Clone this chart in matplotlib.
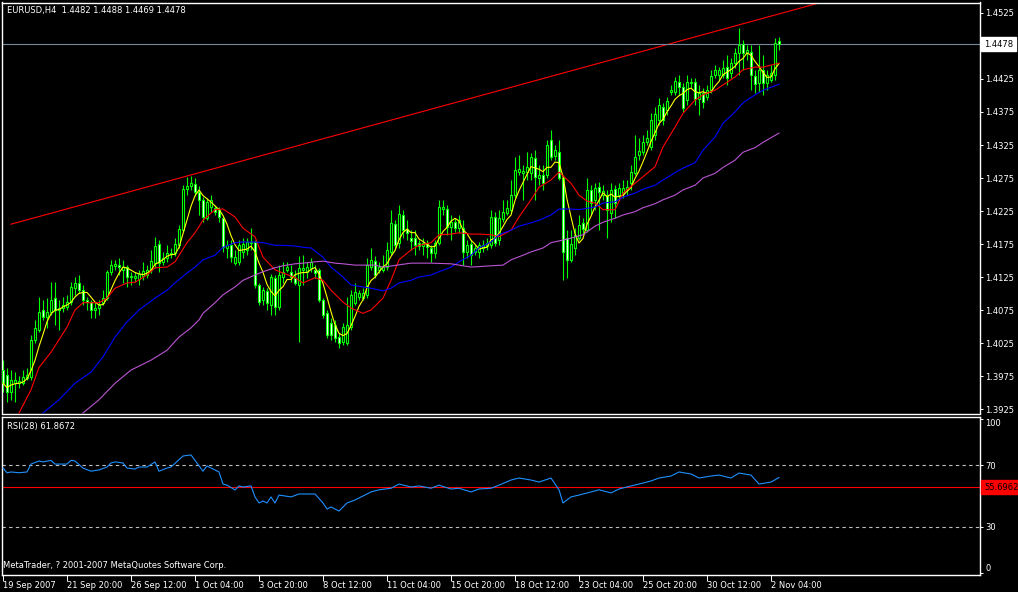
import numpy as np
import pandas as pd
import matplotlib
matplotlib.use("Agg")
import matplotlib.pyplot as plt
from matplotlib.transforms import blended_transform_factory

# EURUSD H4 candles (bar 0 = 19 Sep 2007)
opens = [
    1.3984, 1.3976, 1.3951, 1.3964, 1.3964, 1.3964, 1.3972, 1.3973, 1.4030, 1.4045,
    1.4075, 1.4064, 1.4072, 1.4093, 1.4075, 1.4078, 1.4080, 1.4087, 1.4108, 1.4116,
    1.4105, 1.4090, 1.4087, 1.4075, 1.4078, 1.4086, 1.4093, 1.4133, 1.4142, 1.4143,
    1.4136, 1.4140, 1.4125, 1.4124, 1.4122, 1.4127, 1.4128, 1.4136, 1.4146, 1.4175,
    1.4148, 1.4154, 1.4160, 1.4161, 1.4173, 1.4196, 1.4258, 1.4263, 1.4266, 1.4254,
    1.4242, 1.4214, 1.4231, 1.4230, 1.4227, 1.4214, 1.4169, 1.4173, 1.4146, 1.4148,
    1.4163, 1.4166, 1.4177, 1.4178, 1.4113, 1.4090, 1.4104, 1.4083, 1.4124, 1.4080,
    1.4125, 1.4136, 1.4133, 1.4124, 1.4113, 1.4136, 1.4133, 1.4139, 1.4136, 1.4136,
    1.4090, 1.4070, 1.4055, 1.4052, 1.4034, 1.4027, 1.4025, 1.4049, 1.4086, 1.4095,
    1.4093, 1.4098, 1.4140, 1.4149, 1.4136, 1.4136, 1.4140, 1.4163, 1.4205, 1.4177,
    1.4219, 1.4198, 1.4184, 1.4184, 1.4177, 1.4172, 1.4177, 1.4169, 1.4161, 1.4177,
    1.4228, 1.4228, 1.4201, 1.4208, 1.4199, 1.4199, 1.4163, 1.4175, 1.4163, 1.4163,
    1.4169, 1.4172, 1.4173, 1.4216, 1.4181, 1.4213, 1.4222, 1.4227, 1.4249, 1.4284,
    1.4283, 1.4284, 1.4283, 1.4305, 1.4275, 1.4280, 1.4280, 1.4333, 1.4308, 1.4314,
    1.4275, 1.4184, 1.4151, 1.4169, 1.4184, 1.4207, 1.4196, 1.4257, 1.4242, 1.4261,
    1.4249, 1.4249, 1.4222, 1.4258, 1.4249, 1.4252, 1.4257, 1.4267, 1.4283, 1.4310,
    1.4314, 1.4330, 1.4322, 1.4340, 1.4363, 1.4383, 1.4378, 1.4405, 1.4405, 1.4420,
    1.4413, 1.4393, 1.4419, 1.4420, 1.4395, 1.4404, 1.4398, 1.4408, 1.4431, 1.4431,
    1.4431, 1.4443, 1.4434, 1.4449, 1.4464, 1.4478, 1.4464, 1.4466, 1.4430, 1.4419,
    1.4439, 1.4419, 1.4423, 1.4431, 1.4482]
highs = [
    1.3999, 1.3987, 1.3984, 1.3981, 1.3975, 1.3984, 1.3987, 1.4037, 1.4060, 1.4095,
    1.4090, 1.4093, 1.4117, 1.4117, 1.4090, 1.4095, 1.4098, 1.4117, 1.4125, 1.4128,
    1.4113, 1.4095, 1.4090, 1.4087, 1.4090, 1.4105, 1.4136, 1.4151, 1.4151, 1.4154,
    1.4151, 1.4143, 1.4133, 1.4133, 1.4136, 1.4148, 1.4143, 1.4166, 1.4186, 1.4181,
    1.4163, 1.4173, 1.4169, 1.4184, 1.4204, 1.4264, 1.4277, 1.4278, 1.4275, 1.4263,
    1.4246, 1.4245, 1.4249, 1.4234, 1.4231, 1.4217, 1.4181, 1.4181, 1.4166, 1.4181,
    1.4184, 1.4184, 1.4199, 1.4181, 1.4116, 1.4110, 1.4108, 1.4130, 1.4128, 1.4143,
    1.4148, 1.4148, 1.4143, 1.4136, 1.4157, 1.4158, 1.4148, 1.4154, 1.4143, 1.4139,
    1.4093, 1.4075, 1.4063, 1.4060, 1.4040, 1.4055, 1.4095, 1.4105, 1.4116, 1.4105,
    1.4108, 1.4154, 1.4169, 1.4157, 1.4148, 1.4158, 1.4178, 1.4227, 1.4211, 1.4234,
    1.4227, 1.4211, 1.4196, 1.4196, 1.4181, 1.4184, 1.4181, 1.4173, 1.4181, 1.4242,
    1.4242, 1.4234, 1.4219, 1.4214, 1.4219, 1.4211, 1.4181, 1.4181, 1.4173, 1.4178,
    1.4181, 1.4184, 1.4227, 1.4224, 1.4227, 1.4242, 1.4242, 1.4272, 1.4307, 1.4310,
    1.4295, 1.4314, 1.4313, 1.4317, 1.4295, 1.4295, 1.4333, 1.4348, 1.4325, 1.4333,
    1.4280, 1.4196, 1.4196, 1.4199, 1.4219, 1.4214, 1.4275, 1.4264, 1.4267, 1.4269,
    1.4264, 1.4257, 1.4267, 1.4264, 1.4267, 1.4272, 1.4272, 1.4295, 1.4340, 1.4336,
    1.4340, 1.4348, 1.4373, 1.4383, 1.4396, 1.4389, 1.4398, 1.4416, 1.4428, 1.4431,
    1.4419, 1.4431, 1.4427, 1.4427, 1.4416, 1.4411, 1.4416, 1.4439, 1.4446, 1.4443,
    1.4454, 1.4461, 1.4457, 1.4472, 1.4502, 1.4484, 1.4477, 1.4477, 1.4439, 1.4477,
    1.4461, 1.4439, 1.4446, 1.4487, 1.4488]
lows = [
    1.3951, 1.3936, 1.3939, 1.3936, 1.3957, 1.3961, 1.3969, 1.3969, 1.4025, 1.4042,
    1.4060, 1.4048, 1.4067, 1.4052, 1.4045, 1.4072, 1.4075, 1.4083, 1.4098, 1.4101,
    1.4083, 1.4075, 1.4063, 1.4063, 1.4067, 1.4083, 1.4090, 1.4128, 1.4136, 1.4128,
    1.4116, 1.4110, 1.4113, 1.4117, 1.4113, 1.4120, 1.4124, 1.4131, 1.4139, 1.4133,
    1.4143, 1.4148, 1.4154, 1.4157, 1.4169, 1.4193, 1.4249, 1.4257, 1.4248, 1.4219,
    1.4208, 1.4211, 1.4224, 1.4219, 1.4208, 1.4163, 1.4154, 1.4148, 1.4143, 1.4143,
    1.4154, 1.4158, 1.4166, 1.4108, 1.4083, 1.4083, 1.4075, 1.4067, 1.4067, 1.4075,
    1.4116, 1.4133, 1.4117, 1.4113, 1.4027, 1.4113, 1.4124, 1.4133, 1.4124, 1.4087,
    1.4063, 1.4033, 1.4030, 1.4027, 1.4017, 1.4022, 1.4022, 1.4045, 1.4083, 1.4090,
    1.4090, 1.4093, 1.4136, 1.4124, 1.4131, 1.4133, 1.4136, 1.4158, 1.4166, 1.4169,
    1.4184, 1.4181, 1.4166, 1.4158, 1.4166, 1.4158, 1.4154, 1.4148, 1.4154, 1.4173,
    1.4219, 1.4189, 1.4181, 1.4193, 1.4192, 1.4143, 1.4154, 1.4143, 1.4158, 1.4154,
    1.4163, 1.4166, 1.4169, 1.4172, 1.4173, 1.4208, 1.4219, 1.4222, 1.4245, 1.4280,
    1.4242, 1.4272, 1.4272, 1.4242, 1.4264, 1.4257, 1.4275, 1.4302, 1.4302, 1.4272,
    1.4120, 1.4124, 1.4148, 1.4158, 1.4181, 1.4189, 1.4193, 1.4219, 1.4227, 1.4196,
    1.4242, 1.4184, 1.4208, 1.4214, 1.4242, 1.4245, 1.4249, 1.4257, 1.4280, 1.4302,
    1.4310, 1.4325, 1.4317, 1.4333, 1.4355, 1.4355, 1.4370, 1.4401, 1.4401, 1.4401,
    1.4375, 1.4386, 1.4411, 1.4386, 1.4370, 1.4381, 1.4393, 1.4404, 1.4427, 1.4423,
    1.4427, 1.4416, 1.4427, 1.4442, 1.4431, 1.4439, 1.4454, 1.4408, 1.4404, 1.4405,
    1.4401, 1.4408, 1.4420, 1.4423, 1.4469]
closes = [
    1.3964, 1.3951, 1.3969, 1.3969, 1.3967, 1.3973, 1.3976, 1.4030, 1.4048, 1.4072,
    1.4064, 1.4072, 1.4090, 1.4075, 1.4078, 1.4083, 1.4087, 1.4110, 1.4116, 1.4105,
    1.4090, 1.4087, 1.4075, 1.4078, 1.4083, 1.4093, 1.4133, 1.4143, 1.4145, 1.4140,
    1.4140, 1.4125, 1.4127, 1.4127, 1.4130, 1.4134, 1.4136, 1.4149, 1.4172, 1.4146,
    1.4154, 1.4161, 1.4161, 1.4175, 1.4198, 1.4258, 1.4263, 1.4267, 1.4254, 1.4242,
    1.4216, 1.4239, 1.4242, 1.4224, 1.4216, 1.4170, 1.4173, 1.4155, 1.4155, 1.4173,
    1.4175, 1.4178, 1.4178, 1.4113, 1.4087, 1.4105, 1.4086, 1.4125, 1.4080, 1.4128,
    1.4133, 1.4140, 1.4125, 1.4116, 1.4139, 1.4139, 1.4140, 1.4148, 1.4131, 1.4090,
    1.4067, 1.4037, 1.4037, 1.4033, 1.4025, 1.4049, 1.4052, 1.4098, 1.4102, 1.4101,
    1.4101, 1.4143, 1.4151, 1.4128, 1.4140, 1.4140, 1.4166, 1.4207, 1.4173, 1.4220,
    1.4196, 1.4192, 1.4180, 1.4173, 1.4172, 1.4177, 1.4170, 1.4161, 1.4177, 1.4231,
    1.4231, 1.4201, 1.4208, 1.4199, 1.4211, 1.4163, 1.4173, 1.4158, 1.4169, 1.4173,
    1.4173, 1.4177, 1.4216, 1.4177, 1.4214, 1.4224, 1.4230, 1.4249, 1.4287, 1.4289,
    1.4286, 1.4292, 1.4307, 1.4277, 1.4280, 1.4267, 1.4325, 1.4307, 1.4317, 1.4275,
    1.4163, 1.4151, 1.4175, 1.4189, 1.4204, 1.4198, 1.4257, 1.4237, 1.4260, 1.4254,
    1.4255, 1.4227, 1.4257, 1.4237, 1.4260, 1.4260, 1.4261, 1.4284, 1.4307, 1.4316,
    1.4330, 1.4336, 1.4363, 1.4372, 1.4386, 1.4363, 1.4392, 1.4408, 1.4422, 1.4413,
    1.4381, 1.4420, 1.4420, 1.4395, 1.4404, 1.4390, 1.4408, 1.4430, 1.4439, 1.4439,
    1.4442, 1.4427, 1.4449, 1.4464, 1.4477, 1.4464, 1.4469, 1.4431, 1.4417, 1.4439,
    1.4419, 1.4431, 1.4434, 1.4480, 1.4478]

# moving average lines (bar index, price)
red_bar = [4, 7, 9, 12, 14, 16, 18, 20, 22, 24, 26, 28, 31, 33, 36, 38, 41, 43, 46, 48,
           50, 53, 55, 58, 60, 63, 65, 68, 70, 73, 75, 78, 80, 82, 85, 87, 90, 92, 95, 97,
           99, 102, 104, 107, 109, 112, 114, 117, 119, 122, 124, 127, 129, 132, 134, 137, 139, 142, 144, 146,
           148, 150, 153, 155, 158, 160, 163, 165, 168, 170, 173, 175, 178, 180, 183, 185, 188, 190, 194]
red_ma = [1.3919, 1.3954, 1.3988, 1.4011, 1.4030, 1.4049, 1.4075, 1.4086, 1.4086, 1.4086,
          1.4093, 1.4108, 1.4116, 1.4117, 1.4128, 1.4139, 1.4140, 1.4148, 1.4177, 1.4192,
          1.4211, 1.4227, 1.4228, 1.4216, 1.4199, 1.4186, 1.4155, 1.4136, 1.4131, 1.4124,
          1.4116, 1.4124, 1.4120, 1.4105, 1.4087, 1.4078, 1.4070, 1.4075, 1.4093, 1.4120,
          1.4151, 1.4166, 1.4173, 1.4177, 1.4189, 1.4190, 1.4192, 1.4190, 1.4190, 1.4189,
          1.4186, 1.4196, 1.4216, 1.4242, 1.4261, 1.4272, 1.4284, 1.4267, 1.4249, 1.4240,
          1.4237, 1.4227, 1.4227, 1.4252, 1.4267, 1.4277, 1.4292, 1.4322, 1.4352, 1.4373,
          1.4393, 1.4401, 1.4408, 1.4416, 1.4428, 1.4439, 1.4443, 1.4443, 1.4449]

blue_bar = [10, 14, 18, 22, 25, 28, 31, 34, 38, 41, 43, 46, 48, 50, 53, 55, 58, 60, 63, 65,
            68, 70, 73, 75, 77, 80, 82, 85, 87, 90, 92, 95, 97, 99, 102, 104, 107, 109, 112, 114,
            117, 119, 122, 124, 127, 129, 132, 134, 137, 139, 142, 144, 148, 150, 153, 155, 158, 160, 163, 165,
            168, 170, 173, 175, 178, 180, 183, 185, 188, 190, 194]
blue_ma = [1.3919, 1.3939, 1.3964, 1.3981, 1.4004, 1.4034, 1.4057, 1.4075, 1.4093, 1.4105,
           1.4116, 1.4131, 1.4140, 1.4151, 1.4158, 1.4170, 1.4177, 1.4178, 1.4178, 1.4177,
           1.4173, 1.4173, 1.4172, 1.4170, 1.4169, 1.4155, 1.4140, 1.4125, 1.4113, 1.4110,
           1.4108, 1.4104, 1.4108, 1.4116, 1.4120, 1.4125, 1.4128, 1.4133, 1.4140, 1.4148,
           1.4158, 1.4169, 1.4178, 1.4189, 1.4196, 1.4202, 1.4207, 1.4211, 1.4219, 1.4228,
           1.4228, 1.4227, 1.4231, 1.4237, 1.4239, 1.4246, 1.4252, 1.4258, 1.4264, 1.4272,
           1.4283, 1.4290, 1.4298, 1.4317, 1.4337, 1.4358, 1.4375, 1.4389, 1.4401, 1.4408,
           1.4417]

violet_bar = [20, 24, 28, 32, 37, 41, 44, 47, 49, 50, 53, 55, 58, 60, 63, 65, 68, 70, 73, 75,
              78, 80, 83, 85, 88, 90, 93, 95, 102, 107, 112, 117, 122, 125, 127, 130, 132, 135, 137, 140,
              142, 145, 148, 150, 153, 155, 158, 160, 163, 165, 168, 170, 173, 175, 178, 180, 183, 185, 188, 190,
              194]
violet_ma = [1.3919, 1.3939, 1.3964, 1.3984, 1.3999, 1.4014, 1.4034, 1.4048, 1.4060, 1.4070,
             1.4086, 1.4098, 1.4110, 1.4120, 1.4128, 1.4133, 1.4139, 1.4142, 1.4145, 1.4146,
             1.4148, 1.4149, 1.4146, 1.4145, 1.4143, 1.4143, 1.4143, 1.4140, 1.4146, 1.4146,
             1.4145, 1.4140, 1.4142, 1.4143, 1.4151, 1.4158, 1.4163, 1.4169, 1.4177, 1.4181,
             1.4184, 1.4189, 1.4202, 1.4208, 1.4214, 1.4219, 1.4224, 1.4230, 1.4236, 1.4242,
             1.4249, 1.4257, 1.4264, 1.4275, 1.4282, 1.4291, 1.4302, 1.4314, 1.4321, 1.4329,
             1.4343]

# RSI(28)
rsi_bar = [0, 1, 2, 4, 6, 7, 9, 10, 12, 13, 16, 17, 18, 20, 22, 24, 26, 27, 28, 30,
           31, 33, 34, 36, 38, 39, 41, 42, 45, 47, 48, 50, 51, 54, 55, 56, 58, 59, 60, 62,
           63, 64, 65, 66, 67, 68, 69, 72, 74, 78, 80, 81, 82, 84, 86, 88, 92, 94, 97, 99,
           102, 104, 107, 109, 112, 114, 117, 119, 122, 124, 127, 129, 132, 134, 137, 139, 140, 142, 144, 147,
           149, 152, 154, 157, 159, 162, 164, 167, 169, 172, 174, 177, 179, 182, 184, 187, 189, 192, 194]
rsi_val = [68.0, 65.0, 65.5, 65.0, 65.5, 70.6, 72.6, 72.0, 73.0, 70.6, 70.6, 73.0, 72.6, 68.0, 66.0, 66.8, 68.7, 71.3, 72.0, 71.3,
           68.0, 67.4, 68.7, 68.7, 72.0, 66.0, 68.0, 68.7, 75.8, 76.5, 73.0, 66.0, 69.4, 65.5, 57.7, 57.0, 53.9, 56.5, 55.8, 56.5,
           49.4, 45.5, 46.8, 45.5, 49.4, 45.5, 50.6, 49.4, 51.3, 51.3, 45.5, 41.6, 42.9, 40.3, 45.5, 47.4, 52.6, 54.0, 55.0, 57.7,
           55.8, 56.5, 55.0, 57.0, 54.5, 55.0, 52.6, 54.5, 55.0, 57.0, 60.3, 61.6, 60.3, 59.0, 61.6, 54.0, 45.5, 49.4, 50.6, 52.6,
           54.0, 52.0, 54.5, 56.5, 57.7, 59.7, 61.6, 62.9, 65.5, 64.2, 61.6, 62.9, 63.5, 61.6, 64.8, 63.5, 57.7, 59.0, 61.9]

# trend line through two highs (bar, price), drawn as a ray
trend_bar = [2, 184]
trend_price = [1.4205, 1.4507]

bid = 1.4478
rsi_line = 55.6962
date_ticks = list(range(0, 193, 16))
date_labels = ['19 Sep 2007', '21 Sep 20:00', '26 Sep 12:00', '1 Oct 04:00', '3 Oct 20:00',
               '8 Oct 12:00', '11 Oct 04:00', '15 Oct 20:00', '18 Oct 12:00', '23 Oct 04:00',
               '25 Oct 20:00', '30 Oct 12:00', '2 Nov 04:00']

W, H = 1018, 592
fig = plt.figure(figsize=(W / 100, H / 100), dpi=100, facecolor='black')
ax = fig.add_axes([2 / W, (H - 413.5) / H, 978 / W, 411 / H], facecolor='black')
ax2 = fig.add_axes([2 / W, (H - 574.5) / H, 978 / W, 157.5 / H], facecolor='black')
for a in (ax, ax2):
    for s in a.spines.values():
        s.set_color('white')
        s.set_linewidth(1.0)
    a.set_xlim(-0.25, 244.25)

o = np.array(opens)
c = np.array(closes)
hi = np.maximum(np.array(highs), np.maximum(o, c))
lo = np.minimum(np.array(lows), np.minimum(o, c))
idx = np.arange(len(c))
fill = np.where(c >= o, 'black', 'white')

green = '#00ff00'
ax.vlines(idx, lo, hi, color=green, lw=0.8, zorder=2)
ax.bar(idx, np.abs(c - o), bottom=np.minimum(o, c), width=0.7, color=fill,
       edgecolor=green, linewidth=0.8, zorder=3)

yellow = pd.Series(closes).rolling(5, min_periods=1).mean()
ax.plot(idx, yellow, color='yellow', lw=0.8, zorder=4)
ax.plot(red_bar, red_ma, color='red', lw=0.8, zorder=4)
ax.plot(blue_bar, blue_ma, color='#0000ff', lw=0.8, zorder=4)
ax.plot(violet_bar, violet_ma, color='#ba55d3', lw=0.8, zorder=4)

slope = (trend_price[1] - trend_price[0]) / (trend_bar[1] - trend_bar[0])
x_end = 244.25
ax.plot([trend_bar[0], x_end], [trend_price[0], trend_price[0] + slope * (x_end - trend_bar[0])],
        color='red', lw=0.8, zorder=1)
ax.axhline(bid, color='#778899', lw=0.8, zorder=1)

ax.set_ylim(1.39182, 1.45409)
yt = np.round(np.arange(1.3925, 1.4526, 0.005), 4)
ax.set_yticks(yt)
ax.set_yticklabels(['' if abs(v - 1.4475) < 1e-6 else '%.4f' % v for v in yt])
ax.yaxis.tick_right()
ax.tick_params(axis='y', colors='white', length=2, width=0.7, labelsize=6, pad=2)
ax.set_xticks([])

tr = blended_transform_factory(ax.transAxes, ax.transData)
ax.text(1.004, bid, '%.4f' % bid, transform=tr, va='center', ha='left', fontsize=6,
        color='black', zorder=10, clip_on=False,
        bbox=dict(boxstyle='square,pad=0.3', fc='white', ec='white'))

fig.text(7 / W, 1 - 10 / H, 'EURUSD,H4  1.4482 1.4488 1.4469 1.4478', color='white',
         fontsize=6, va='center', ha='left')

# RSI panel
ax2.plot(rsi_bar, rsi_val, color='#1e90ff', lw=0.8, zorder=3)
for lvl in (70, 30):
    ax2.axhline(lvl, color='#c0c0c0', lw=0.8, ls=(0, (3, 3)), zorder=1)
ax2.axhline(rsi_line, color='red', lw=0.8, zorder=2)
ax2.set_ylim(-0.65, 100.97)
ax2.set_yticks([100, 70, 30, 0])
ax2.set_yticklabels(['100', '70', '30', '0'])
ax2.yaxis.tick_right()
ax2.tick_params(axis='y', colors='white', length=2, width=0.7, labelsize=6, pad=2)
labs = ax2.get_yticklabels()
labs[0].set_va('top')
labs[3].set_va('bottom')

tr2 = blended_transform_factory(ax2.transAxes, ax2.transData)
ax2.text(1.004, rsi_line, '%.4f' % rsi_line, transform=tr2, va='center', ha='left', fontsize=6,
         color='black', zorder=10, clip_on=False,
         bbox=dict(boxstyle='square,pad=0.3', fc='red', ec='red'))

ax2.set_xticks(date_ticks)
ax2.set_xticklabels(date_labels)
ax2.tick_params(axis='x', colors='white', length=4, width=0.7, labelsize=6, pad=1)
for lab in ax2.get_xticklabels():
    lab.set_ha('left')

fig.text(7 / W, 1 - 426 / H, 'RSI(28) 61.8672', color='white', fontsize=6, va='center', ha='left')
fig.text(3 / W, 1 - 566 / H, 'MetaTrader, ? 2001-2007 MetaQuotes Software Corp.', color='white',
         fontsize=6, va='center', ha='left')

fig.savefig('out.png', dpi=100, facecolor='black')
